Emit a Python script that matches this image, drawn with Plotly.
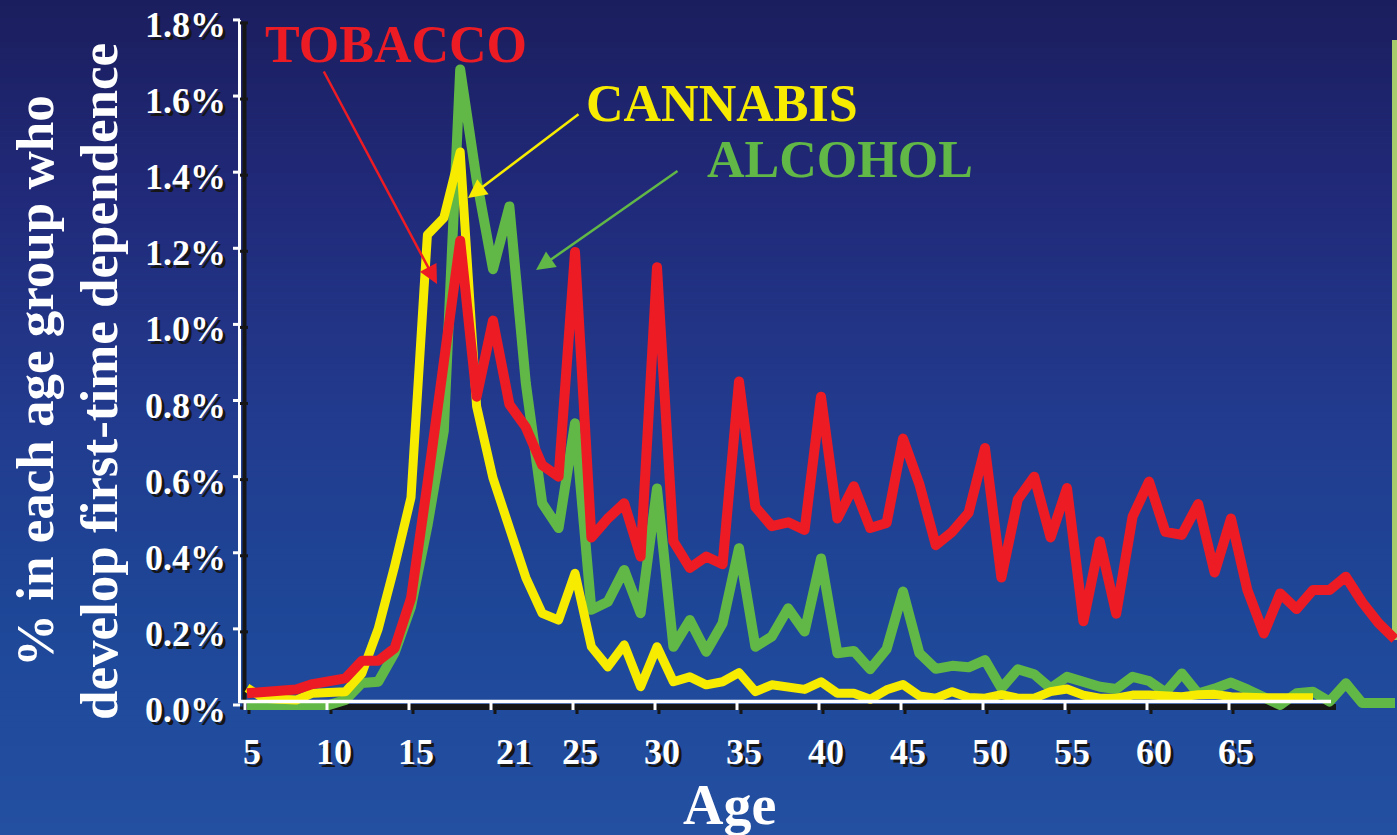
import plotly.graph_objects as go

# ---------------------------------------------------------------- data
ages = list(range(5, 76))

tobacco = [
    0.031, 0.035, 0.041, 0.041, 0.055, 0.061, 0.070, 0.116, 0.116, 0.149,   # 5-14
    0.280, 0.580, 0.900, 1.220, 0.810, 1.010, 0.790, 0.730, 0.630, 0.600,   # 15-24
    1.190, 0.440, 0.490, 0.530, 0.390, 1.150, 0.430, 0.360, 0.390, 0.370,   # 25-34
    0.850, 0.520, 0.470, 0.480, 0.460, 0.810, 0.490, 0.575, 0.465, 0.478,   # 35-44
    0.700, 0.580, 0.420, 0.455, 0.505, 0.675, 0.335, 0.540, 0.600, 0.440,   # 45-54
    0.570, 0.220, 0.430, 0.240, 0.495, 0.587, 0.455, 0.447, 0.528, 0.348,   # 55-64
    0.490, 0.302, 0.188, 0.293, 0.252, 0.302, 0.302, 0.337, 0.270, 0.215,   # 65-74
    0.173,                                                                  # 75
]

alcohol = [
    0.000, 0.000, 0.000, 0.000, 0.000, 0.000, 0.013, 0.058, 0.061, 0.137,   # 5-14
    0.258, 0.470, 0.720, 1.670, 1.380, 1.145, 1.310, 0.846, 0.530, 0.465,   # 15-24
    0.740, 0.250, 0.271, 0.355, 0.241, 0.569, 0.153, 0.223, 0.140, 0.215,   # 25-34
    0.412, 0.153, 0.180, 0.254, 0.193, 0.385, 0.136, 0.142, 0.094, 0.147,   # 35-44
    0.298, 0.136, 0.095, 0.103, 0.099, 0.118, 0.044, 0.094, 0.081, 0.044,   # 45-54
    0.074, 0.061, 0.048, 0.042, 0.074, 0.063, 0.033, 0.083, 0.030, 0.043,   # 55-64
    0.059, 0.041, 0.017, 0.000, 0.031, 0.035, 0.009, 0.057, 0.005, 0.005,   # 65-74
    0.005,                                                                  # 75
]

cannabis_ages = list(range(5, 71))
cannabis = [
    0.045, 0.018, 0.015, 0.013, 0.031, 0.033, 0.035, 0.083, 0.200, 0.365,   # 5-14
    0.545, 1.235, 1.280, 1.453, 0.785, 0.596, 0.460, 0.335, 0.241, 0.223,   # 15-24
    0.346, 0.153, 0.100, 0.158, 0.048, 0.153, 0.061, 0.074, 0.053, 0.061,   # 25-34
    0.085, 0.035, 0.053, 0.048, 0.041, 0.061, 0.031, 0.031, 0.015, 0.040,   # 35-44
    0.054, 0.024, 0.018, 0.035, 0.020, 0.018, 0.027, 0.018, 0.018, 0.035,   # 45-54
    0.042, 0.026, 0.018, 0.018, 0.026, 0.026, 0.022, 0.022, 0.027, 0.028,   # 55-64
    0.022, 0.019, 0.019, 0.019, 0.019, 0.019,                               # 65-70
]

x_tick_marks = [5, 10, 15, 20, 25, 30, 35, 40, 45, 50, 55, 60, 65]
x_label_ages = [5, 10, 15, 21, 25, 30, 35, 40, 45, 50, 55, 60, 65]
x_label_text = ["5", "10", "15", "21", "25", "30", "35", "40", "45", "50", "55", "60", "65"]

y_ticks = [0.0, 0.2, 0.4, 0.6, 0.8, 1.0, 1.2, 1.4, 1.6, 1.8]
y_tick_text = ["0.0%", "0.2%", "0.4%", "0.6%", "0.8%", "1.0%", "1.2%", "1.4%", "1.6%", "1.8%"]

# ---------------------------------------------------------------- styling
W, H = 1397, 835
RED = "#ED1C24"
YELLOW = "#F7EC00"
GREEN = "#62B846"
WHITE = "#FFFFFF"
SHADOW = "#161616"
FONT = "Liberation Serif, Times New Roman, serif"
TEXT_SHADOW = "3px 3px 0px #161616"

# axis geometry (pixels): where age 5 and 0 % sit, and scale per unit
X0_PX, X_SCALE = 247.0, 16.4     # px per year of age
Y0_PX, Y_SCALE = 705.0, 380.6    # px per percentage point

x_range = [5 - X0_PX / X_SCALE, 5 + (W - X0_PX) / X_SCALE]
y_range = [-(H - Y0_PX) / Y_SCALE, Y0_PX / Y_SCALE]


def px(xp):
    """horizontal pixel -> paper fraction"""
    return xp / W


def py(yp):
    """vertical pixel (from top) -> paper fraction"""
    return 1 - yp / H


def dx(p):
    return p / X_SCALE


def dy(p):
    return p / Y_SCALE


fig = go.Figure()

fig.add_trace(go.Scatter(x=ages, y=alcohol, mode="lines", name="ALCOHOL",
                         line=dict(color=GREEN, width=10), hoverinfo="skip"))
fig.add_trace(go.Scatter(x=cannabis_ages, y=cannabis, mode="lines", name="CANNABIS",
                         line=dict(color=YELLOW, width=9), hoverinfo="skip"))
fig.add_trace(go.Scatter(x=ages, y=tobacco, mode="lines", name="TOBACCO",
                         line=dict(color=RED, width=10), hoverinfo="skip"))

shapes = []

# vertical gradient background, dark navy at the top to royal blue at the bottom
stops = [(0, (27, 30, 94)), (200, (33, 42, 122)), (420, (34, 59, 142)),
         (620, (30, 71, 152)), (835, (36, 80, 162))]


def grad(yp):
    for (y1, c1), (y2, c2) in zip(stops[:-1], stops[1:]):
        if y1 <= yp <= y2:
            t = (yp - y1) / (y2 - y1)
            return "rgb(%d,%d,%d)" % tuple(round(a + (b - a) * t) for a, b in zip(c1, c2))
    return "rgb(%d,%d,%d)" % stops[-1][1]


N = 140
for i in range(N):
    y_top = H * i / N
    y_bot = H * (i + 1) / N
    shapes.append(dict(type="rect", xref="paper", yref="paper", layer="below",
                       x0=0, x1=1, y0=py(y_bot + 0.5), y1=py(y_top),
                       fillcolor=grad((y_top + y_bot) / 2), line=dict(width=0)))

# sliver of the slide's photo strip on the right edge
shapes.append(dict(type="rect", xref="paper", yref="paper", layer="below",
                   x0=px(1392), x1=1, y0=py(640), y1=py(40),
                   fillcolor="#A6CC6C", line=dict(width=0)))

# y axis: black drop shadow then white line
shapes.append(dict(type="line", xref="paper", yref="paper", layer="below",
                   x0=px(244.5), x1=px(244.5), y0=py(710), y1=py(23),
                   line=dict(color=SHADOW, width=4)))
shapes.append(dict(type="line", xref="paper", yref="paper", layer="below",
                   x0=px(239.5), x1=px(239.5), y0=py(703), y1=py(20),
                   line=dict(color=WHITE, width=3)))
# x axis: black drop shadow then white line
shapes.append(dict(type="line", xref="paper", yref="paper", layer="below",
                   x0=px(243), x1=px(1336), y0=py(707), y1=py(707),
                   line=dict(color=SHADOW, width=6)))
shapes.append(dict(type="line", xref="paper", yref="paper", layer="above",
                   x0=px(238), x1=px(1331), y0=py(701.5), y1=py(701.5),
                   line=dict(color=WHITE, width=3.5)))

# y tick marks
for v in y_ticks:
    shapes.append(dict(type="line", xref="paper", yref="y", layer="below",
                       x0=px(240), x1=px(248), y0=v - dy(3), y1=v - dy(3),
                       line=dict(color=SHADOW, width=3)))
    shapes.append(dict(type="line", xref="paper", yref="y", layer="below",
                       x0=px(233), x1=px(240), y0=v, y1=v,
                       line=dict(color=WHITE, width=3)))

# x tick marks
for a in x_tick_marks:
    shapes.append(dict(type="line", xref="x", yref="paper", layer="below",
                       x0=a + dx(2), x1=a + dx(2), y0=py(714), y1=py(706),
                       line=dict(color=SHADOW, width=3)))
    shapes.append(dict(type="line", xref="x", yref="paper", layer="above",
                       x0=a - dx(2), x1=a - dx(2), y0=py(710), y1=py(701),
                       line=dict(color=WHITE, width=3)))

annotations = []

# y tick labels, white with a dark drop shadow
for v, t in zip(y_ticks, y_tick_text):
    annotations.append(dict(text="<b>%s</b>" % t, xref="paper", yref="y",
                            x=px(228), y=v, yshift=-5,
                            xanchor="right", yanchor="middle", showarrow=False,
                            font=dict(family=FONT, size=36, color=WHITE,
                                      shadow=TEXT_SHADOW)))

# x tick labels, white with a dark drop shadow
for a, t in zip(x_label_ages, x_label_text):
    annotations.append(dict(text="<b>%s</b>" % t, xref="x", yref="paper",
                            x=a, xshift=5, y=py(752),
                            xanchor="center", yanchor="middle", showarrow=False,
                            font=dict(family=FONT, size=36, color=WHITE,
                                      shadow=TEXT_SHADOW)))

# axis titles
annotations.append(dict(text="<b>Age</b>", xref="paper", yref="paper",
                        x=px(729), y=py(805), xanchor="center", yanchor="middle",
                        showarrow=False, font=dict(family=FONT, size=56, color=WHITE)))
annotations.append(dict(text="<b>% in each age group who</b>", xref="paper", yref="paper",
                        x=px(35), y=py(381), xanchor="center", yanchor="middle",
                        textangle=-90, showarrow=False,
                        font=dict(family=FONT, size=53, color=WHITE)))
annotations.append(dict(text="<b>develop first-time dependence</b>", xref="paper", yref="paper",
                        x=px(99), y=py(382), xanchor="center", yanchor="middle",
                        textangle=-90, showarrow=False,
                        font=dict(family=FONT, size=53, color=WHITE)))

# series names
for name, col, cx, cy in (("TOBACCO", RED, 396, 45),
                          ("CANNABIS", YELLOW, 722, 103),
                          ("ALCOHOL", GREEN, 840, 160)):
    annotations.append(dict(text="<b>%s</b>" % name, xref="paper", yref="paper",
                            x=px(cx), y=py(cy), xanchor="center", yanchor="middle",
                            showarrow=False, font=dict(family=FONT, size=52, color=col)))

# pointer arrows from each name to its curve
for col, tail, tip in ((RED, (323, 70), (437, 284)),
                       (YELLOW, (580, 113), (468, 198)),
                       (GREEN, (679, 170), (536, 270))):
    annotations.append(dict(text="", xref="paper", yref="paper",
                            x=px(tip[0]), y=py(tip[1]),
                            ax=tail[0] - tip[0], ay=tail[1] - tip[1],
                            axref="pixel", ayref="pixel",
                            showarrow=True, arrowhead=2, arrowsize=1.5,
                            arrowwidth=2.5, arrowcolor=col, standoff=0))

fig.update_layout(
    width=W, height=H, autosize=False,
    margin=dict(l=0, r=0, t=0, b=0, pad=0),
    paper_bgcolor="rgb(36,80,162)",
    plot_bgcolor="rgba(0,0,0,0)",
    showlegend=False,
    xaxis=dict(visible=False, range=x_range, fixedrange=True),
    yaxis=dict(visible=False, range=y_range, fixedrange=True),
    shapes=shapes,
    annotations=annotations,
)

fig.write_html(
    "out.html",
    config={"displayModeBar": False, "staticPlot": True},
    post_script="document.querySelectorAll('.scatterlayer .js-line').forEach("
                "function(p){p.style.strokeLinejoin='round';});",
)
